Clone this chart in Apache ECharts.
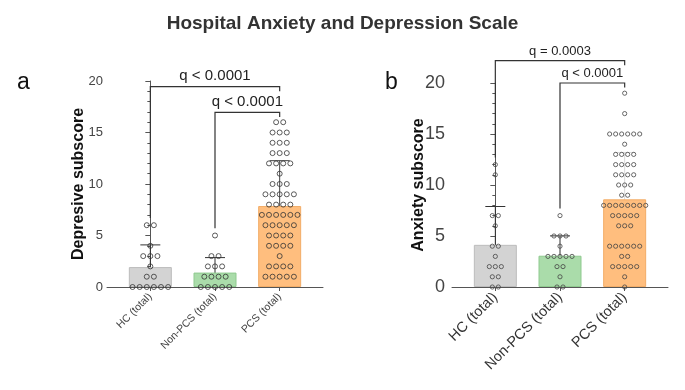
<!DOCTYPE html>
<html>
<head>
<meta charset="utf-8">
<script src="https://cdn.jsdelivr.net/npm/echarts@6/dist/echarts.min.js"></script>
<style>
  html, body { margin: 0; padding: 0; background: #fff; }
  #chart { width: 685px; height: 390px; }
</style>
</head>
<body>
<div id="chart"></div>
<script>
// groups, in x order
const categories = ["HC (total)", "Non-PCS (total)", "PCS (total)"];
const barColors = ["#d3d3d3", "#aadcaa", "#ffbe7e"];
const barBorders = ["#bcbcbc", "#8fca8f", "#f2ad68"];

// individual scores (depressive subscore)
const depHC = [0, 0, 0, 0, 0, 0, 1, 1, 2, 3, 3, 3, 4, 6, 6];
const depNonPCS = [0, 0, 0, 0, 0, 1, 1, 1, 1, 2, 2, 2, 3, 3, 5];
const depPCS = [
  1, 1, 1, 1, 1, 2, 2, 2, 2, 3, 4, 4, 4, 4, 5, 5, 5, 5,
  6, 6, 6, 6, 6, 7, 7, 7, 7, 7, 7, 8, 8, 8, 8, 9, 9, 9, 9, 9,
  10, 10, 10, 11, 12, 12, 12, 12, 13, 13, 13, 14, 14, 14, 15, 15, 15, 16, 16
];

// individual scores (anxiety subscore)
const anxHC = [0, 0, 1, 1, 2, 2, 2, 3, 4, 4, 6, 7, 7, 11, 12];
const anxNonPCS = [0, 0, 1, 2, 2, 3, 3, 3, 3, 3, 4, 5, 5, 5, 7];
const anxPCS = [
  0, 1, 2, 2, 2, 2, 2, 3, 3, 4, 4, 4, 4, 4, 4, 6, 6, 6,
  7, 7, 7, 7, 7, 8, 8, 8, 8, 8, 8, 8, 8, 9, 9, 10, 10, 10,
  11, 11, 11, 11, 12, 12, 12, 12, 13, 13, 13, 13, 14, 15, 15, 15, 15, 15, 15, 17, 19
];

const yTicks = [0, 5, 10, 15, 20];

// significance brackets: [from group, to group, text]
const bracketsA = [[0, 2, "q < 0.0001"], [1, 2, "q < 0.0001"]];
const bracketsB = [[0, 2, "q = 0.0003"], [1, 2, "q < 0.0001"]];

function mean(a) {
  return a.reduce((s, v) => s + v, 0) / a.length;
}
function sd(a) {
  const m = mean(a);
  return Math.sqrt(a.reduce((s, v) => s + (v - m) * (v - m), 0) / (a.length - 1));
}

// spread equal scores sideways around the group centre
function swarm(groups, step) {
  const pts = [];
  groups.forEach((vals, gi) => {
    const counts = {};
    vals.forEach(v => { counts[v] = (counts[v] || 0) + 1; });
    Object.keys(counts).forEach(k => {
      const n = counts[k];
      for (let i = 0; i < n; i++) {
        pts.push([gi + (i - (n - 1) / 2) * step, +k]);
      }
    });
  });
  return pts;
}

function barData(groups) {
  return groups.map((vals, i) => ({
    value: [i, mean(vals)],
    itemStyle: { color: barColors[i], borderColor: barBorders[i], borderWidth: 1 }
  }));
}

function errData(groups) {
  return groups.map((vals, i) => {
    const m = mean(vals), s = sd(vals);
    return [i, Math.max(0, m - s), m + s, m - s > 0 ? 1 : 0];
  });
}

// bracket heights (in axis units) sit just above the highest point
function bracketData(list, groups, top) {
  return list.map((b, k) => {
    const lineY = top[k];
    return [b[0], b[1], lineY, Math.max(...groups[b[0]]) + 0.7, lineY - 0.45, b[2]];
  });
}

const groupsA = [depHC, depNonPCS, depPCS];
const groupsB = [anxHC, anxNonPCS, anxPCS];

function errRender(colors) {
  return function (params, api) {
    const x = api.value(0);
    const lo = api.coord([x, api.value(1)]);
    const hi = api.coord([x, api.value(2)]);
    const c = colors[params.dataIndex];
    const half = 10;
    const children = [
      { type: "line", shape: { x1: lo[0], y1: lo[1], x2: hi[0], y2: hi[1] }, style: { stroke: c, lineWidth: 1 } },
      { type: "line", shape: { x1: hi[0] - half, y1: hi[1], x2: hi[0] + half, y2: hi[1] }, style: { stroke: c, lineWidth: 1 } }
    ];
    if (api.value(3)) {
      children.push({ type: "line", shape: { x1: lo[0] - half, y1: lo[1], x2: lo[0] + half, y2: lo[1] }, style: { stroke: c, lineWidth: 1 } });
    }
    return { type: "group", children: children };
  };
}

function bracketRender(fontSize) {
  return function (params, api) {
    const x1 = api.value(0), x2 = api.value(1);
    const yl = api.value(2), yL = api.value(3), yR = api.value(4);
    const p1 = api.coord([x1, yL]);
    const p2 = api.coord([x1, yl]);
    const p3 = api.coord([x2, yl]);
    const p4 = api.coord([x2, yR]);
    return {
      type: "group",
      children: [
        { type: "polyline", shape: { points: [p1, p2, p3, p4] }, style: { stroke: "#333", lineWidth: 1.2, fill: null } },
        {
          type: "text",
          x: (p2[0] + p3[0]) / 2, y: p2[1] - 3,
          style: { text: api.value(5), fill: "#222", font: fontSize + "px 'Liberation Sans', Arial, sans-serif", align: "center", verticalAlign: "bottom" }
        }
      ]
    };
  };
}

const chart = echarts.init(document.getElementById("chart"));

function xAxisFor(gridIndex, fontSize, color) {
  return {
    gridIndex: gridIndex,
    type: "value",
    min: -0.67,
    max: 2.67,
    splitLine: { show: false },
    axisLine: { show: true, onZero: false, lineStyle: { color: "#555", width: 1 } },
    axisTick: { show: true, customValues: [0, 1, 2], length: 4, lineStyle: { color: "#555" } },
    axisLabel: {
      customValues: [0, 1, 2],
      rotate: 45,
      margin: 8,
      fontSize: fontSize,
      color: color,
      fontFamily: "'Liberation Sans', Arial, sans-serif",
      formatter: v => categories[Math.round(v)]
    }
  };
}

function yAxisFor(gridIndex, name, fontSize, nameGap, labelMargin) {
  return {
    gridIndex: gridIndex,
    type: "value",
    min: yTicks[0],
    max: yTicks[yTicks.length - 1],
    interval: yTicks[1] - yTicks[0],
    name: name,
    nameLocation: "middle",
    nameGap: nameGap,
    nameMoveOverlap: false,
    nameTextStyle: { fontSize: 16, fontWeight: "bold", color: "#111", fontFamily: "'Liberation Sans', Arial, sans-serif" },
    splitLine: { show: false },
    axisLine: { show: true, lineStyle: { color: "#555", width: 1 } },
    axisTick: { show: true, length: 5, lineStyle: { color: "#555" } },
    minorTick: { show: true, splitNumber: 5, length: 3, lineStyle: { color: "#555", width: 1 } },
    axisLabel: {
      fontSize: fontSize,
      color: "#444",
      margin: labelMargin,
      fontFamily: "'Liberation Sans', Arial, sans-serif"
    }
  };
}

const option = {
  animation: false,
  title: [
    { text: "Hospital Anxiety and Depression Scale", left: "center", top: 9, textStyle: { fontSize: 19, fontWeight: "bold", color: "#333", fontFamily: "'Liberation Sans', Arial, sans-serif" } },
    { text: "a", left: 12, top: 66, textStyle: { fontSize: 23, fontWeight: "normal", color: "#111", fontFamily: "'Liberation Sans', Arial, sans-serif" } },
    { text: "b", left: 380, top: 66, textStyle: { fontSize: 23, fontWeight: "normal", color: "#111", fontFamily: "'Liberation Sans', Arial, sans-serif" } }
  ],
  grid: [
    { left: 107, top: 81, width: 216, height: 206 },
    { left: 452, top: 83, width: 216, height: 204 }
  ],
  xAxis: [xAxisFor(0, 10.5, "#444"), xAxisFor(1, 14.5, "#333")],
  yAxis: [
    yAxisFor(0, "Depresive subscore", 13, 20, 4),
    yAxisFor(1, "Anxiety subscore", 18, 25, 7)
  ],
  series: [
    { type: "bar", xAxisIndex: 0, yAxisIndex: 0, barWidth: 43, data: barData(groupsA) },
    { type: "bar", xAxisIndex: 1, yAxisIndex: 1, barWidth: 43, data: barData(groupsB) },
    {
      type: "scatter", xAxisIndex: 0, yAxisIndex: 0, symbol: "circle", symbolSize: 5,
      itemStyle: { color: "rgba(0,0,0,0)", borderColor: "#333", borderWidth: 1 },
      data: swarm(groupsA, 0.11)
    },
    {
      type: "scatter", xAxisIndex: 1, yAxisIndex: 1, symbol: "circle", symbolSize: 4.2,
      itemStyle: { color: "rgba(0,0,0,0)", borderColor: "#444", borderWidth: 1 },
      data: swarm(groupsB, 0.093)
    },
    {
      type: "custom", xAxisIndex: 0, yAxisIndex: 0, clip: false,
      renderItem: errRender(["#333", "#333", "#444"]),
      data: errData(groupsA)
    },
    {
      type: "custom", xAxisIndex: 1, yAxisIndex: 1, clip: false,
      renderItem: errRender(["#333", "#333", "#d8d8d8"]),
      data: errData(groupsB)
    },
    {
      type: "custom", xAxisIndex: 0, yAxisIndex: 0, clip: false,
      renderItem: bracketRender(15),
      data: bracketData(bracketsA, groupsA, [19.45, 16.95])
    },
    {
      type: "custom", xAxisIndex: 1, yAxisIndex: 1, clip: false,
      renderItem: bracketRender(13),
      data: bracketData(bracketsB, groupsB, [22.2, 20.0])
    }
  ]
};

chart.setOption(option);
</script>
</body>
</html>
